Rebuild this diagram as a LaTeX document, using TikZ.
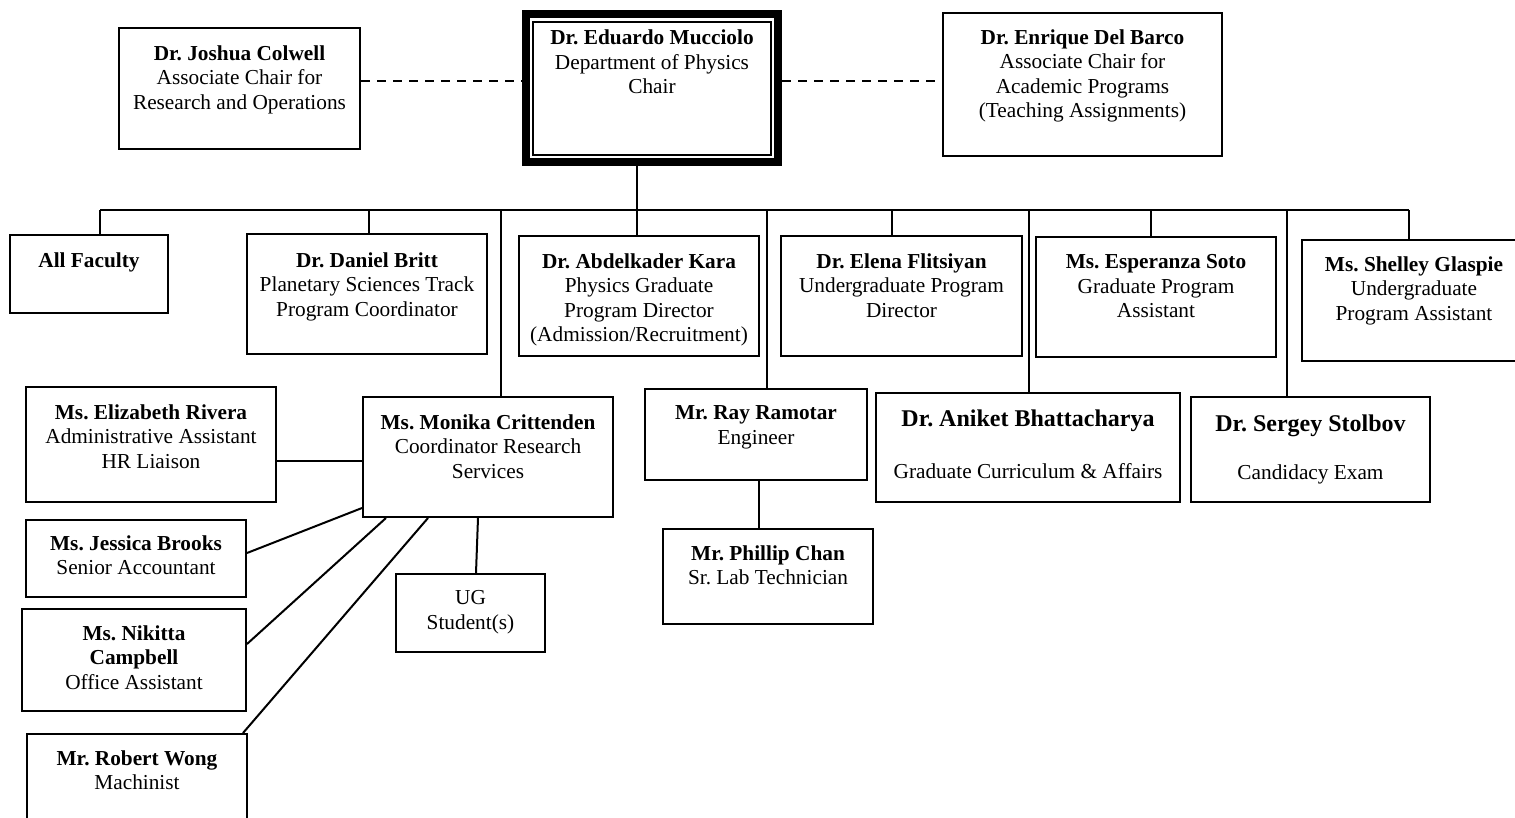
\documentclass[tikz,border=0pt]{standalone}
\usepackage{fontspec}
\setmainfont{Liberation Serif}
\usetikzlibrary{fit}
\frenchspacing
\begin{document}
\begin{tikzpicture}[x=1pt,y=-1pt,
  box/.style={draw, line width=2pt, inner sep=0pt},
  txt/.style={inner sep=0pt, align=center, anchor=north, font=\fontsize{21.3pt}{24.5pt}\selectfont},
  conn/.style={line width=2pt},
  dashline/.style={line width=2pt, dash pattern=on 9pt off 7pt}]
\useasboundingbox (0,0) rectangle (1515,817);
\clip (0,0) rectangle (1515,817);
\fill[white] (0,0) rectangle (1515,817);

% ---------- top row ----------
\node[box, fit={(119,28) (360,149)}] (colwell) {};
\node[txt] (colwellT) at (colwell.north |- 0,45.5) {\textbf{Dr. Joshua Colwell}\\Associate Chair for\\Research and Operations};

\node[draw, line width=8pt, inner sep=0pt, fit={(526,14) (778,162)}] (chair) {};
\node[draw, line width=1.8pt, inner sep=0pt, fit={(533,22) (771,155)}] (chairin) {};
\node[txt] (chairT) at (chair.north |- 0,30) {\textbf{Dr. Eduardo Mucciolo}\\Department of Physics\\Chair};

\node[box, fit={(943,13) (1222,156)}] (delbarco) {};
\node[txt] (delbarcoT) at (delbarco.north |- 0,29.5) {\textbf{Dr. Enrique Del Barco}\\Associate Chair for\\Academic Programs\\(Teaching Assignments)};

\coordinate (dy) at (0,81);
\draw[dashline] (colwell.east |- dy) -- (chair.west |- dy);
\draw[dashline] (chair.east |- dy) -- (delbarco.west |- dy);

% ---------- second row ----------
\node[box, fit={(10,235) (168,313)}] (faculty) {};
\node[txt] (facultyT) at (faculty.north |- 0,252.5) {\textbf{All Faculty}};

\node[box, fit={(247,234) (487,354)}] (britt) {};
\node[txt] (brittT) at (britt.north |- 0,252.5) {\textbf{Dr. Daniel Britt}\\Planetary Sciences Track\\Program Coordinator};

\node[box, fit={(519,236) (759,356)}] (kara) {};
\node[txt] (karaT) at (kara.north |- 0,253.5) {\textbf{Dr. Abdelkader Kara}\\Physics Graduate\\Program Director\\(Admission/Recruitment)};

\node[box, fit={(781,236) (1022,356)}] (flitsiyan) {};
\node[txt] (flitsiyanT) at (flitsiyan.north |- 0,253.5) {\textbf{Dr. Elena Flitsiyan}\\Undergraduate Program\\Director};

\node[box, fit={(1036,237) (1276,357)}] (soto) {};
\node[txt] (sotoT) at (soto.north |- 0,254.5) {\textbf{Ms. Esperanza Soto}\\Graduate Program\\Assistant};

\node[box, fit={(1302,240) (1526,361)}] (glaspie) {};
\node[txt] (glaspieT) at (glaspie.north |- 0,256.5) {\textbf{Ms. Shelley Glaspie}\\Undergraduate\\Program Assistant};

% ---------- third row ----------
\node[box, fit={(26,387) (276,502)}] (rivera) {};
\node[txt] (riveraT) at (rivera.north |- 0,404.5) {\textbf{Ms. Elizabeth Rivera}\\Administrative Assistant\\HR Liaison};

\node[box, fit={(363,397) (613,517)}] (crit) {};
\node[txt] (critT) at (crit.north |- 0,414.5) {\textbf{Ms. Monika Crittenden}\\Coordinator Research\\Services};

\node[box, fit={(645,389) (867,480)}] (ramotar) {};
\node[txt] (ramotarT) at (ramotar.north |- 0,405.5) {\textbf{Mr. Ray Ramotar}\\Engineer};

\node[box, fit={(876,393) (1180,502)}] (bhatt) {};
\node[txt] (bhattT) at (bhatt.north |- 0,409.5) {{\fontsize{24pt}{28pt}\selectfont\bfseries Dr. Aniket Bhattacharya}\\[28pt]Graduate Curriculum \& Affairs};

\node[box, fit={(1191,397) (1430,502)}] (stolbov) {};
\node[txt] (stolbovT) at (stolbov.north |- 0,414.5) {{\fontsize{24pt}{28pt}\selectfont\bfseries Dr. Sergey Stolbov}\\[24pt]Candidacy Exam};

% ---------- lower left ----------
\node[box, fit={(26,520) (246,597)}] (brooks) {};
\node[txt] (brooksT) at (brooks.north |- 0,535.5) {\textbf{Ms. Jessica Brooks}\\Senior Accountant};

\node[box, fit={(22,609) (246,711)}] (campbell) {};
\node[txt] (campbellT) at (campbell.north |- 0,625.5) {\textbf{Ms. Nikitta}\\\textbf{Campbell}\\Office Assistant};

\node[box, fit={(27,734) (247,834)}] (wong) {};
\node[txt] (wongT) at (wong.north |- 0,750.5) {\textbf{Mr. Robert Wong}\\Machinist};

\node[box, fit={(396,574) (545,652)}] (ug) {};
\node[txt] (ugT) at (ug.north |- 0,590.5) {UG\\Student(s)};

\node[box, fit={(663,529) (873,624)}] (chan) {};
\node[txt] (chanT) at (chan.north |- 0,545.5) {\textbf{Mr. Phillip Chan}\\Sr. Lab Technician};

% ---------- connectors ----------
\coordinate (busL) at (100,210);
\coordinate (busR) at (1409,210);
\coordinate (bc) at (637,210);
\draw[conn] (busL) -- (busR);
\draw[conn] (chair.south -| bc) -- (bc);

\draw[conn] (busL) -- (busL |- faculty.north);
\coordinate (b2) at (369,210);
\draw[conn] (b2) -- (b2 |- britt.north);
\draw[conn] (bc) -- (bc |- kara.north);
\coordinate (b5) at (892,210);
\draw[conn] (b5) -- (b5 |- flitsiyan.north);
\coordinate (b6) at (1151,210);
\draw[conn] (b6) -- (b6 |- soto.north);
\draw[conn] (busR) -- (busR |- glaspie.north);

\coordinate (l1) at (501,210);
\draw[conn] (l1) -- (l1 |- crit.north);
\coordinate (l2) at (767,210);
\draw[conn] (l2) -- (l2 |- ramotar.north);
\coordinate (l3) at (1029,210);
\draw[conn] (l3) -- (l3 |- bhatt.north);
\coordinate (l4) at (1287,210);
\draw[conn] (l4) -- (l4 |- stolbov.north);

\draw[conn] (rivera.east |- 0,461) -- (crit.west |- 0,461);
\draw[conn] (brooks.east |- 0,553) -- (crit.west |- 0,508);
\draw[conn] (campbell.east |- 0,644) -- (crit.south -| 386,0);
\draw[conn] (wong.north -| 243,0) -- (crit.south -| 428,0);
\draw[conn] (crit.south -| 478,0) -- (ug.north -| 476,0);
\draw[conn] (ramotar.south -| 759,0) -- (chan.north -| 759,0);
\end{tikzpicture}
\end{document}
